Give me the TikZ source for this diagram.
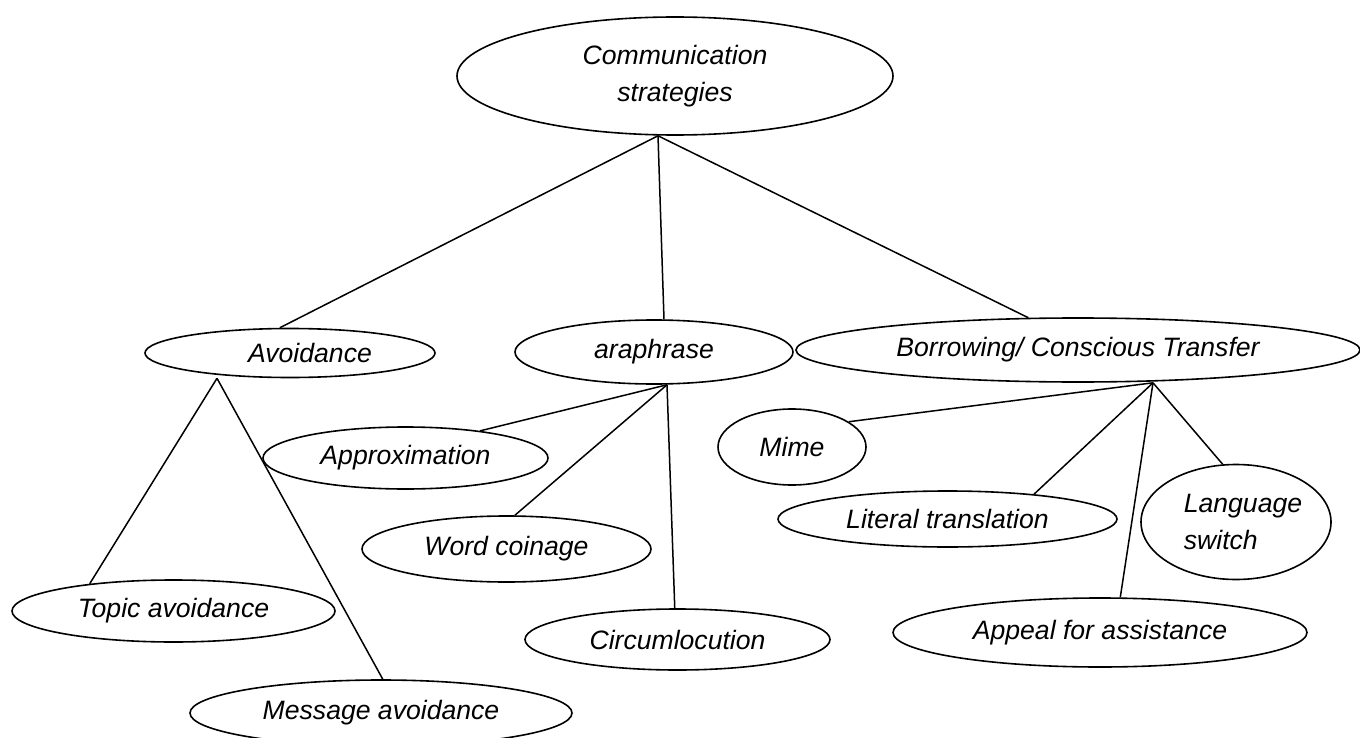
\documentclass[tikz,border=0pt]{standalone}
\usepackage{fontspec}
\setmainfont{Liberation Sans}
\usetikzlibrary{shapes.geometric, calc}

\begin{document}
\begin{tikzpicture}[x=0.5pt, y=-0.5pt,
  strat/.style={draw, ellipse, inner sep=0pt, line width=0.8pt,
    font=\fontsize{13.3}{18.5}\selectfont\itshape, align=center},
  link/.style={line width=0.75pt}]

\useasboundingbox (0,0) rectangle (1360,738);

% ---- root -----------------------------------------------------------------
\node[strat, minimum width=218pt, minimum height=59pt] (comm) at (675,76)
  {Communication\\strategies};

% ---- first level ----------------------------------------------------------
\node[strat, minimum width=145pt, minimum height=24.5pt] (avoid) at (290,353)
  {\hspace*{20pt}Avoidance};
\node[strat, minimum width=139pt, minimum height=32pt] (para) at (654,352)
  {araphrase};
\node[strat, minimum width=282pt, minimum height=32pt] (borrow) at (1078,350)
  {Borrowing/ Conscious Transfer};

% ---- second level ---------------------------------------------------------
\node[strat, minimum width=161.5pt, minimum height=31pt] (topic) at (173.5,611)
  {Topic avoidance};
\node[strat, minimum width=191pt, minimum height=33pt] (message) at (381,713)
  {Message avoidance};
\node[strat, minimum width=142.5pt, minimum height=31pt] (approx) at (405.5,458)
  {Approximation};
\node[strat, minimum width=144.5pt, minimum height=33pt] (word) at (506.5,549)
  {Word coinage};
\node[strat, minimum width=152.5pt, minimum height=30.5pt] (circ) at (677.5,639.5)
  {Circumlocution};
\node[strat, minimum width=74pt, minimum height=38pt] (mime) at (792,447)
  {Mime};
\node[strat, minimum width=169.5pt, minimum height=28pt] (literal) at (947.5,519)
  {Literal translation};
\node[strat, minimum width=95pt, minimum height=57.5pt, align=left] (langsw) at (1236,522)
  {\hspace*{7pt}Language\\\hspace*{7pt}switch};
\node[strat, minimum width=207pt, minimum height=34.5pt] (appeal) at (1100,632.5)
  {Appeal for assistance};

% ---- hubs under the parents -----------------------------------------------
\coordinate (commhub) at ($(comm.south)+(-17,0)$);
\coordinate (avoidhub) at ($(avoid.south)+(-73,0)$);
\coordinate (parahub) at ($(para.south)+(13,0)$);
\coordinate (borrowhub) at ($(borrow.south)+(75,0)$);

% ---- connectors -----------------------------------------------------------
\draw[link] (commhub) -- (avoid.112);
\draw[link] (commhub) -- (para.73);
\draw[link] (commhub) -- (borrow.147);

\draw[link] (avoidhub) -- (topic.162);
\draw[link] (avoidhub) -- (message.87);

\draw[link] (parahub) -- (approx.20);
\draw[link] (parahub) -- (word.76);
\draw[link] (parahub) -- (circ.95);

\draw[link] (borrowhub) -- (mime.24);
\draw[link] (borrowhub) -- (literal.16);
\draw[link] (borrowhub) -- (langsw.103);
\draw[link] (borrowhub) -- (appeal.60);
\end{tikzpicture}
\end{document}
